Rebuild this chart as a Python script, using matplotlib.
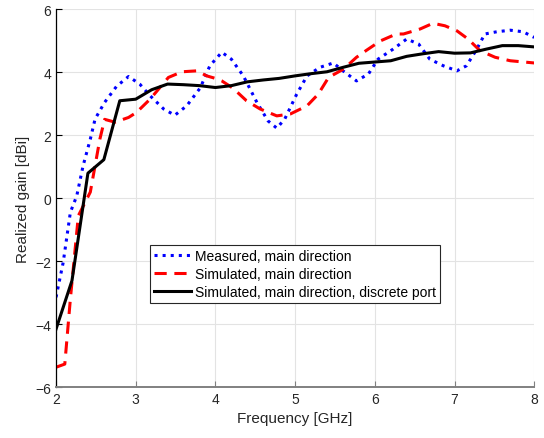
import matplotlib.pyplot as plt

plt.rcParams['font.family'] = ['Liberation Sans', 'DejaVu Sans']

# measured gain, main direction
meas_f = [2.0, 2.09, 2.18, 2.26, 2.34, 2.43, 2.49, 2.61, 2.76, 2.91, 3.05, 3.18, 3.35, 3.49,
          3.64, 3.81, 3.93, 4.08, 4.2, 4.35, 4.52, 4.66, 4.77, 4.87, 5.02, 5.15, 5.31, 5.48,
          5.6, 5.77, 5.92, 6.04, 6.23, 6.4, 6.55, 6.69, 6.86, 7.03, 7.15, 7.28, 7.38, 7.53,
          7.7, 7.86, 8.0]
meas_g = [-3.15, -2.04, -0.45, 0.07, 1.03, 1.87, 2.51, 3.04, 3.55, 3.86, 3.62, 3.25, 2.83, 2.63,
          2.93, 3.5, 4.2, 4.63, 4.41, 3.88, 3.04, 2.45, 2.22, 2.51, 3.3, 3.88, 4.15, 4.29,
          4.04, 3.72, 3.94, 4.41, 4.73, 5.05, 4.89, 4.41, 4.2, 4.04, 4.2, 4.73, 5.21, 5.28,
          5.33, 5.28, 5.1]

# simulated gain, main direction
sim_f = [2.0, 2.11, 2.18, 2.28, 2.43, 2.55, 2.61, 2.74, 2.91, 3.01, 3.18, 3.41, 3.58, 3.77,
         3.89, 4.0, 4.08, 4.22, 4.39, 4.56, 4.77, 4.94, 5.15, 5.29, 5.42, 5.61, 5.77, 5.9,
         6.07, 6.27, 6.36, 6.57, 6.73, 6.88, 7.03, 7.17, 7.32, 7.51, 7.7, 8.0]
sim_g = [-5.37, -5.27, -3.2, -0.56, 0.19, 1.87, 2.5, 2.41, 2.56, 2.72, 3.14, 3.83, 4.01, 4.04,
         3.88, 3.8, 3.72, 3.49, 3.09, 2.83, 2.61, 2.67, 2.93, 3.3, 3.83, 4.1, 4.47, 4.7,
         4.99, 5.21, 5.21, 5.37, 5.55, 5.47, 5.31, 5.05, 4.68, 4.47, 4.36, 4.29]

# simulated gain with discrete port
port_f = [2.0 + 0.2 * i for i in range(31)]
port_g = [-4.16, -2.62, 0.79, 1.22, 3.09, 3.14, 3.44, 3.62, 3.6, 3.57, 3.51, 3.57, 3.69, 3.75,
          3.8, 3.88, 3.95, 4.01, 4.15, 4.28, 4.32, 4.36, 4.5, 4.58, 4.65, 4.6, 4.61, 4.73,
          4.84, 4.84, 4.8]

fig = plt.figure(figsize=(5.44, 4.39), dpi=100)
ax = fig.add_axes([0.103, 0.116, 0.879, 0.861])

ax.plot(meas_f, meas_g, ':', color=(0, 0, 1), lw=2.2, label='Measured, main direction')
ax.plot(sim_f, sim_g, '--', color=(1, 0, 0), lw=2.2, dashes=(4, 2.5),
        label='Simulated, main direction')
ax.plot(port_f, port_g, '-', color='k', lw=2.2,
        label='Simulated, main direction, discrete port')

ax.set_xlim(2, 8)
ax.set_ylim(-6, 6)
ax.set_xticks(range(2, 9))
ax.set_yticks(range(-6, 7, 2))
ax.grid(True, color='#e3e3e3', lw=0.8)
ax.set_axisbelow(True)
ax.tick_params(direction='in', length=4, labelsize=10, labelcolor='#262626')
ax.tick_params(axis='x', color='#808080')
ax.spines['top'].set_visible(False)
ax.spines['right'].set_visible(False)
ax.spines['left'].set_color('k')
ax.spines['left'].set_linewidth(0.9)
ax.spines['bottom'].set_color('#808080')
ax.spines['bottom'].set_linewidth(1.4)

ax.set_xlabel('Frequency [GHz]', fontsize=11, color='#262626')
ax.set_ylabel('Realized gain [dBi]', fontsize=11, color='#262626')

leg = ax.legend(loc='center', bbox_to_anchor=(0.5, 0.299), fontsize=10, fancybox=False,
                framealpha=1, edgecolor='#262626', handlelength=2.6, borderpad=0.3,
                labelspacing=0.3, handletextpad=0.3)
leg.get_frame().set_linewidth(0.8)

fig.savefig('out.png', dpi=100)
